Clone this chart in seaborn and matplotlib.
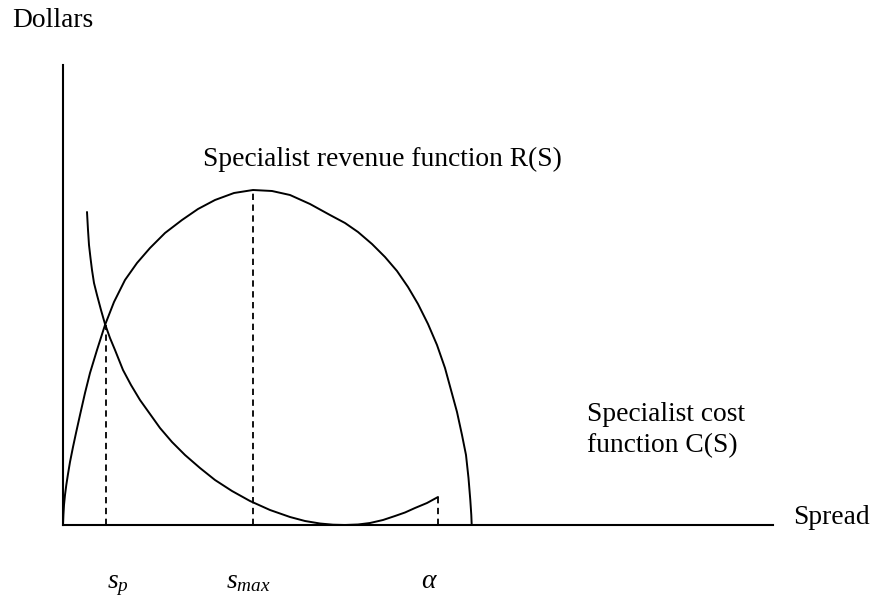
import matplotlib
matplotlib.use("Agg")
import matplotlib.pyplot as plt
import seaborn as sns
import pandas as pd

# Data in arbitrary chart units (spread axis spans 0-710, dollars axis 0-460)
rev_spread = [0, 0.4, 1, 2, 3.3, 5, 7, 10, 13, 17, 22, 27, 34, 42, 51, 62, 74, 87,
              102, 119, 135, 152, 171, 190, 209, 227, 247, 267, 282, 295, 309, 322,
              334, 345, 355, 365, 374, 382, 388, 394, 399, 403, 405.5, 407.3, 408.3, 408.7]
rev_dollars = [0, 10, 20, 30, 40, 51, 63, 78, 92, 110, 132, 152, 175, 200, 223, 245,
               262, 277, 292, 305, 316, 325, 332, 335, 334, 330, 321, 310, 302, 293,
               281, 268, 254, 238, 221, 201, 180, 157, 135, 113, 90, 70, 47, 25, 10, 0]
cost_spread = [24, 25, 26, 27.5, 29, 31, 34, 38, 42, 47, 52, 60, 68, 77, 87, 97, 109,
               122, 137, 152, 169, 187, 207, 227, 242, 257, 270, 282, 295, 307, 320,
               332, 342, 352, 364, 375]
cost_dollars = [313, 295, 280, 267, 255, 242, 230, 215, 201, 187, 175, 155, 140, 125,
                111, 97, 83, 70, 57, 45, 34, 24, 15, 8, 4, 1.5, 0.3, 0, 0.5, 2, 5, 9,
                12.5, 17, 22, 28]
marker_spread = [43, 190, 375]
marker_top = [200, 335, 28]
marker_labels = [r"$s_p$", r"$s_{max}$", r"$\alpha$"]

sns.set_style("white")
plt.rcParams["font.family"] = ["Liberation Serif", "DejaVu Serif"]
plt.rcParams["text.color"] = "black"
plt.rcParams["mathtext.fontset"] = "custom"
plt.rcParams["mathtext.it"] = "Liberation Serif:italic"
plt.rcParams["mathtext.rm"] = "Liberation Serif"

W, H = 875, 598
fig = plt.figure(figsize=(W / 100, H / 100), dpi=100)
ax = fig.add_axes([63 / W, (H - 525) / H, (773 - 63) / W, (525 - 65) / H])

rev = pd.DataFrame({"spread": rev_spread, "dollars": rev_dollars})
cost = pd.DataFrame({"spread": cost_spread, "dollars": cost_dollars})
sns.lineplot(data=rev, x="spread", y="dollars", sort=False, color="black", lw=1.4, ax=ax)
sns.lineplot(data=cost, x="spread", y="dollars", sort=False, color="black", lw=1.4, ax=ax)
ax.vlines(marker_spread, 0, marker_top, colors="black", lw=1.3,
          linestyles=(0, (3.5, 2.5)))

ax.set_xlim(0, 710)
ax.set_ylim(0, 460)
ax.set_xticks([])
ax.set_yticks([])
ax.set_xlabel("")
ax.set_ylabel("")
for s in ["top", "right"]:
    ax.spines[s].set_visible(False)
for s in ["left", "bottom"]:
    ax.spines[s].set_linewidth(1.5)
    ax.spines[s].set_color("black")

fs = 19.8
def ftext(px, py, s, **kw):
    fig.text(px / W, 1 - py / H, s, fontsize=fs, va="baseline", ha="left",
             color="black", **kw)

ftext(12, 27, "Dollars")
ftext(203, 166, "Specialist revenue function R(S)")
ftext(587, 421, "Specialist cost")
ftext(587, 452, "function C(S)")
ftext(793, 524, "Spread")
for px, lab in zip([107, 226, 421], marker_labels):
    ftext(px, 588, lab)

fig.savefig("out.png", dpi=100)
